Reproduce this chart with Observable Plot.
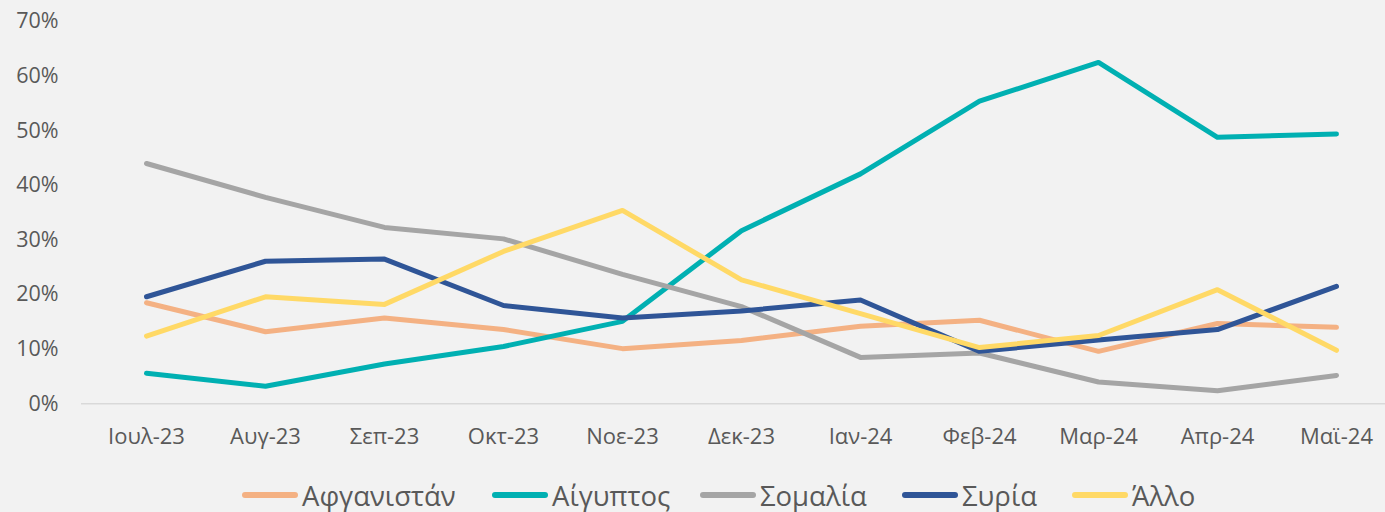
<!DOCTYPE html>
<html>
<head>
<meta charset="utf-8">
<script src="https://cdn.jsdelivr.net/npm/d3@7"></script>
<script src="https://cdn.jsdelivr.net/npm/@observablehq/plot@0.6"></script>
<style>
  html, body { margin: 0; padding: 0; background: #F2F2F2; }
  body { width: 1385px; height: 512px; overflow: hidden; font-family: "Open Sans", sans-serif; position: relative; }
  #legend { position: absolute; top: 470px; left: 0; width: 1385px; height: 50px; font-size: 27.5px; color: #595959; }
  .item { position: absolute; top: 0; height: 50px; display: flex; align-items: center; white-space: nowrap; }
  .sw { width: 56px; height: 6px; border-radius: 3px; margin-right: 4px; }
</style>
</head>
<body>
<div id="chart"></div>
<div id="legend"></div>
<script>
const months = ["Ιουλ-23","Αυγ-23","Σεπ-23","Οκτ-23","Νοε-23","Δεκ-23","Ιαν-24","Φεβ-24","Μαρ-24","Απρ-24","Μαϊ-24"];
const seriesNames = ["Αφγανιστάν","Αίγυπτος","Σομαλία","Συρία","Άλλο"];
const seriesColors = ["#F4B183","#00B0B2","#A5A5A5","#2F5597","#FFD966"];
const afghanistan = [0.185,0.132,0.157,0.136,0.101,0.116,0.142,0.153,0.096,0.147,0.140];
const egypt       = [0.056,0.032,0.073,0.105,0.151,0.317,0.421,0.554,0.625,0.488,0.494];
const somalia     = [0.440,0.378,0.323,0.302,0.237,0.178,0.085,0.093,0.040,0.024,0.052];
const syria       = [0.196,0.261,0.265,0.180,0.157,0.170,0.190,0.096,0.117,0.136,0.215];
const other       = [0.124,0.196,0.182,0.279,0.354,0.227,0.165,0.103,0.125,0.209,0.098];
const yTicks = [0,0.1,0.2,0.3,0.4,0.5,0.6,0.7];

const seriesValues = [afghanistan, egypt, somalia, syria, other];
const data = [];
seriesNames.forEach((s, i) => months.forEach((m, j) => data.push({series: s, month: m, value: seriesValues[i][j]})));

const chart = Plot.plot({
  width: 1385,
  height: 462,
  marginLeft: 81,
  marginRight: 0,
  marginTop: 21,
  marginBottom: 59,
  style: {background: "#F2F2F2", fontFamily: "Open Sans, sans-serif", color: "#595959"},
  x: {type: "point", domain: months, range: [141, 1340], padding: 0, align: 0.5},
  y: {domain: [0, 0.7], range: [403.3, 21]},
  color: {domain: seriesNames, range: seriesColors},
  marks: [
    Plot.ruleY([0], {stroke: "#D9D9D9", strokeWidth: 1.5}),
    Plot.axisY(yTicks, {tickSize: 0, tickPadding: 23, tickFormat: d => Math.round(d * 100) + "%", fontSize: 21.5, fill: "#595959", label: null}),
    Plot.axisX(months, {tickSize: 0, tickPadding: 25, fontSize: 22, fill: "#595959", label: null}),
    Plot.line(data, {x: "month", y: "value", z: "series", stroke: "series", strokeWidth: 5, strokeLinejoin: "round", strokeLinecap: "round"})
  ]
});
document.getElementById("chart").appendChild(chart);

const legend = document.getElementById("legend");
const legendLeft = [242, 492, 700, 902, 1072];
seriesNames.forEach((s, i) => {
  const it = document.createElement("div");
  it.className = "item";
  it.style.left = legendLeft[i] + "px";
  const sw = document.createElement("div");
  sw.className = "sw";
  sw.style.background = seriesColors[i];
  const tx = document.createElement("span");
  tx.textContent = s;
  it.appendChild(sw); it.appendChild(tx);
  legend.appendChild(it);
});
</script>
</body>
</html>
